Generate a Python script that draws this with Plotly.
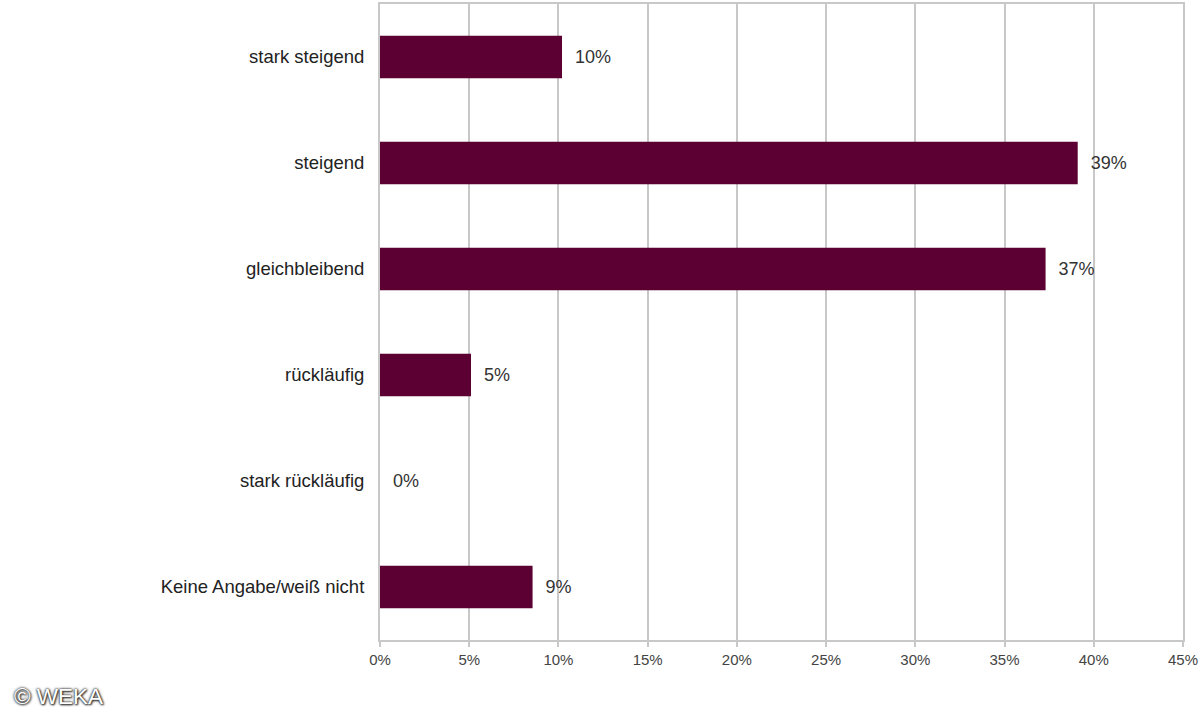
import plotly.graph_objects as go

# Antworten (von oben nach unten)
kategorien = ["stark steigend", "steigend", "gleichbleibend", "rückläufig",
              "stark rückläufig", "Keine Angabe/weiß nicht"]
werte = [10.2, 39.1, 37.3, 5.1, 0.0, 8.55]
beschriftung = ["10%", "39%", "37%", "5%", "0%", "9%"]
ticks = [0, 5, 10, 15, 20, 25, 30, 35, 40, 45]
tick_text = [f"{t}%" for t in ticks]

fig = go.Figure()
fig.add_trace(go.Bar(
    x=werte,
    y=kategorien,
    orientation="h",
    marker=dict(color="#5c0033", line=dict(width=0)),
    text=["\u00a0\u00a0" + b for b in beschriftung],
    textposition="outside",
    cliponaxis=False,
    textfont=dict(family="Liberation Sans, Arial", size=18, color="#333333"),
))

fig.update_layout(
    width=1200, height=720,
    margin=dict(l=380, r=15, t=2, b=80),
    paper_bgcolor="white",
    plot_bgcolor="white",
    bargap=0.6,
    showlegend=False,
    font=dict(family="Liberation Sans, Arial", color="#333333"),
)
fig.update_xaxes(
    range=[0, 45.001],
    tickvals=ticks,
    ticktext=tick_text,
    tickfont=dict(size=15, color="#444444"),
    ticklabeloverflow="allow",
    showgrid=True, gridcolor="#c8c8c8", gridwidth=2,
    showline=True, linecolor="#c8c8c8", linewidth=2,
    mirror=True,
    zeroline=False,
    ticks="outside", ticklen=5, tickcolor="#c8c8c8", tickwidth=2,
    fixedrange=True,
)
fig.update_yaxes(
    categoryorder="array",
    categoryarray=kategorien[::-1],
    tickfont=dict(size=18.5, color="#222222"),
    ticks="", ticklabelstandoff=10,
    showline=True, linecolor="#c8c8c8", linewidth=2,
    mirror=True,
    showgrid=False,
    fixedrange=True,
)

# Copyright-Hinweis unten links (weiße Schrift mit dunklem Schatten)
fig.add_annotation(
    text="© WEKA", xref="paper", yref="paper",
    x=-369 / 805, y=-57 / 638, xanchor="left", yanchor="middle",
    showarrow=False,
    font=dict(family="Liberation Sans, Arial", size=22.5, color="white",
              shadow="0px 0px 2px #222, 0px 0px 3px #444, 1px 1px 2px #333"),
)

fig.write_html("out.html", config={"displayModeBar": False},
               post_script="document.body.style.margin='0';")
